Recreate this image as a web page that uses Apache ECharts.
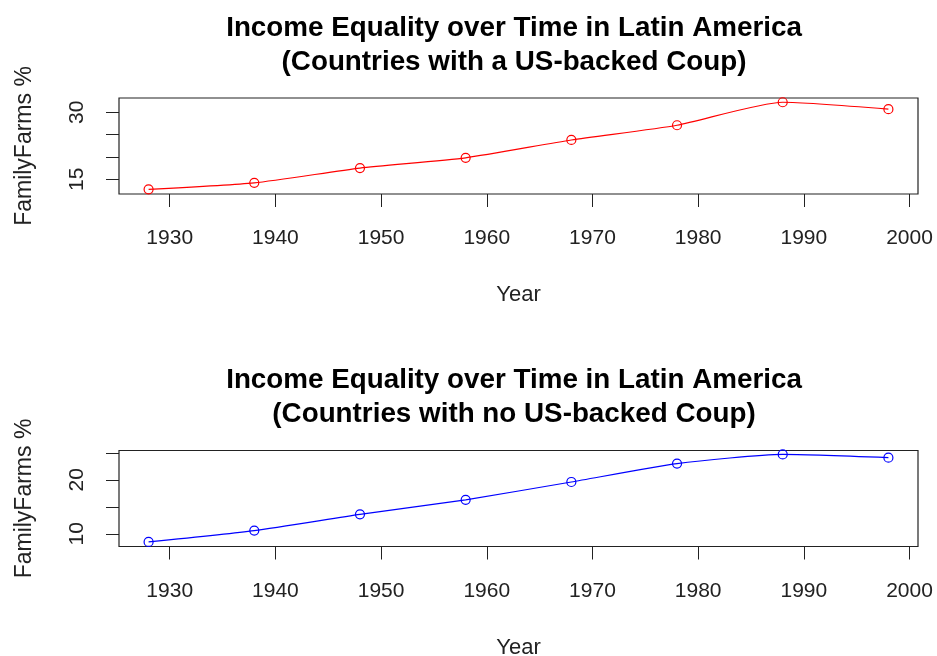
<!DOCTYPE html>
<html>
<head>
<meta charset="utf-8">
<script src="https://cdn.jsdelivr.net/npm/echarts@6/dist/echarts.min.js"></script>
<style>
  html, body { margin: 0; padding: 0; background: #fff; }
  #chart { width: 937px; height: 656px; }
</style>
</head>
<body>
<div id="chart"></div>
<script>
// data
const years = [1928, 1938, 1948, 1958, 1968, 1978, 1988, 1998];
const coupValues = [12.75, 14.2, 17.5, 19.8, 23.8, 27.1, 32.25, 30.7];
const noCoupValues = [8.5, 10.6, 13.6, 16.3, 19.6, 23.0, 24.7, 24.1];

const xTicks = [1930, 1940, 1950, 1960, 1970, 1980, 1990, 2000];
const coupYTicks = [15, 20, 25, 30];
const coupYLabels = [15, 30];
const noCoupYTicks = [10, 15, 20, 25];
const noCoupYLabels = [10, 20];

const titleLine1 = 'Income Equality over Time in Latin America';
const coupTitle = '(Countries with a US-backed Coup)';
const noCoupTitle = '(Countries with no US-backed Coup)';

const font = '"Liberation Sans", Arial, sans-serif';
const panelOffset = 352.5;

const chart = echarts.init(document.getElementById('chart'));

function makeTitle(sub, top) {
  return {
    text: titleLine1 + '\n' + sub,
    left: 509,
    top: top,
    textAlign: 'center',
    textStyle: {
      fontFamily: font,
      fontSize: 27.8,
      fontWeight: 'bold',
      color: '#000',
      lineHeight: 34
    }
  };
}

function makeX(gridIndex) {
  return {
    type: 'value',
    gridIndex: gridIndex,
    min: 1925.2,
    max: 2000.8,
    name: 'Year',
    nameLocation: 'middle',
    nameGap: 90,
    nameTextStyle: { fontFamily: font, fontSize: 22, color: '#222' },
    axisLine: { show: false },
    axisTick: {
      show: true,
      length: 13,
      customValues: xTicks,
      lineStyle: { color: '#222', width: 1 }
    },
    axisLabel: {
      customValues: xTicks,
      formatter: v => String(v),
      margin: 34,
      fontFamily: font,
      fontSize: 21,
      color: '#222'
    },
    splitLine: { show: false }
  };
}

function makeY(gridIndex, min, max, ticks, labels) {
  return {
    type: 'value',
    gridIndex: gridIndex,
    min: min,
    max: max,
    name: 'FamilyFarms %',
    nameLocation: 'middle',
    nameGap: 83,
    nameTextStyle: { fontFamily: font, fontSize: 23, color: '#222' },
    axisLine: { show: false },
    axisTick: {
      show: true,
      length: 13,
      customValues: ticks,
      lineStyle: { color: '#222', width: 1 }
    },
    axisLabel: {
      customValues: labels,
      rotate: 90,
      margin: 31,
      fontFamily: font,
      fontSize: 21,
      color: '#222'
    },
    splitLine: { show: false }
  };
}

function makeSeries(values, color, idx) {
  return {
    type: 'line',
    xAxisIndex: idx,
    yAxisIndex: idx,
    data: years.map((y, i) => [y, values[i]]),
    smooth: 0.2,
    symbol: 'circle',
    symbolSize: 9,
    lineStyle: { color: color, width: 1.2 },
    itemStyle: { color: 'rgba(0,0,0,0)', borderColor: color, borderWidth: 1.2 },
    emphasis: { disabled: true },
    z: 3
  };
}

function makeGrid(top) {
  return {
    left: 119, top: top, width: 799, height: 96,
    outerBoundsMode: 'none',
    containLabel: false,
    show: true,
    borderColor: '#222',
    borderWidth: 1.2,
    backgroundColor: 'transparent'
  };
}

const option = {
  animation: false,
  backgroundColor: '#fff',
  title: [
    makeTitle(coupTitle, 6),
    makeTitle(noCoupTitle, 6 + panelOffset)
  ],
  grid: [makeGrid(98), makeGrid(98 + panelOffset)],
  xAxis: [makeX(0), makeX(1)],
  yAxis: [
    makeY(0, 11.7, 33.2, coupYTicks, coupYLabels),
    makeY(1, 7.65, 25.43, noCoupYTicks, noCoupYLabels)
  ],
  series: [
    makeSeries(coupValues, '#ff0000', 0),
    makeSeries(noCoupValues, '#0000ff', 1)
  ]
};

chart.setOption(option);
</script>
</body>
</html>
